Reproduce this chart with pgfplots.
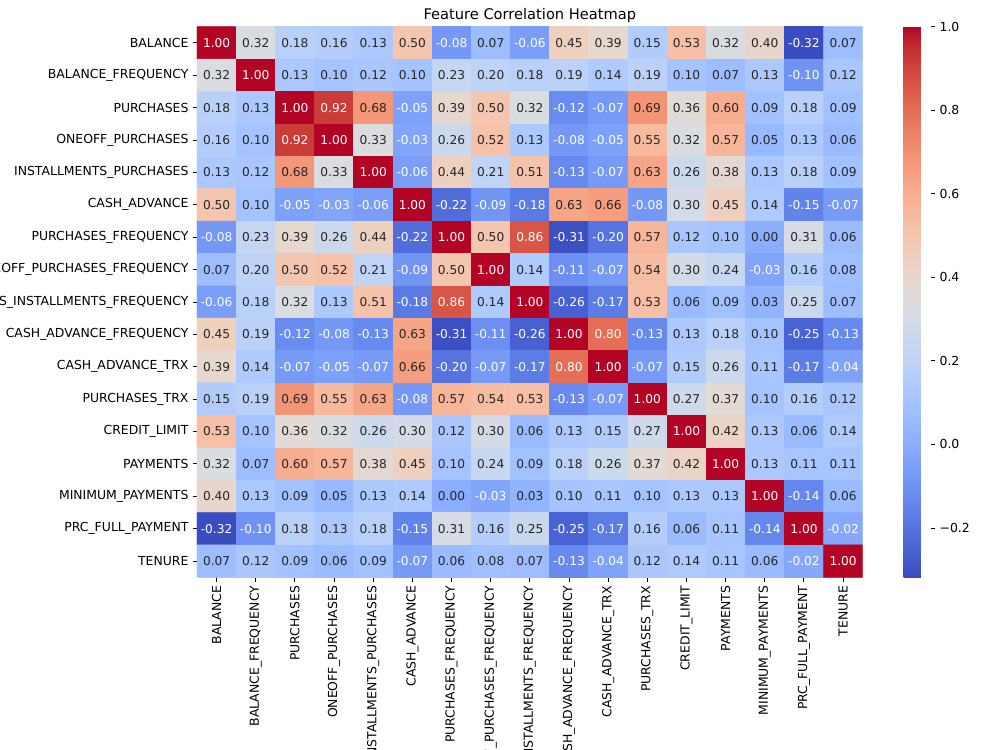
\documentclass[border=0pt]{standalone}
\usepackage{pgfplots}
\usepackage{pgfplotstable}
\pgfplotsset{compat=1.18}
\usepackage{fontspec}
\setmainfont{DejaVu Sans}
\definecolor{annotdark}{rgb}{0.15,0.15,0.15}

% correlation matrix in long form: column, row, value
\pgfplotstableread[row sep=\\]{
x y v\\
0 0 1.00\\ 1 0 0.32\\ 2 0 0.18\\ 3 0 0.16\\ 4 0 0.13\\ 5 0 0.50\\ 6 0 -0.08\\ 7 0 0.07\\ 8 0 -0.06\\ 9 0 0.45\\ 10 0 0.39\\ 11 0 0.15\\ 12 0 0.53\\ 13 0 0.32\\ 14 0 0.40\\ 15 0 -0.32\\ 16 0 0.07\\
0 1 0.32\\ 1 1 1.00\\ 2 1 0.13\\ 3 1 0.10\\ 4 1 0.12\\ 5 1 0.10\\ 6 1 0.23\\ 7 1 0.20\\ 8 1 0.18\\ 9 1 0.19\\ 10 1 0.14\\ 11 1 0.19\\ 12 1 0.10\\ 13 1 0.07\\ 14 1 0.13\\ 15 1 -0.10\\ 16 1 0.12\\
0 2 0.18\\ 1 2 0.13\\ 2 2 1.00\\ 3 2 0.92\\ 4 2 0.68\\ 5 2 -0.05\\ 6 2 0.39\\ 7 2 0.50\\ 8 2 0.32\\ 9 2 -0.12\\ 10 2 -0.07\\ 11 2 0.69\\ 12 2 0.36\\ 13 2 0.60\\ 14 2 0.09\\ 15 2 0.18\\ 16 2 0.09\\
0 3 0.16\\ 1 3 0.10\\ 2 3 0.92\\ 3 3 1.00\\ 4 3 0.33\\ 5 3 -0.03\\ 6 3 0.26\\ 7 3 0.52\\ 8 3 0.13\\ 9 3 -0.08\\ 10 3 -0.05\\ 11 3 0.55\\ 12 3 0.32\\ 13 3 0.57\\ 14 3 0.05\\ 15 3 0.13\\ 16 3 0.06\\
0 4 0.13\\ 1 4 0.12\\ 2 4 0.68\\ 3 4 0.33\\ 4 4 1.00\\ 5 4 -0.06\\ 6 4 0.44\\ 7 4 0.21\\ 8 4 0.51\\ 9 4 -0.13\\ 10 4 -0.07\\ 11 4 0.63\\ 12 4 0.26\\ 13 4 0.38\\ 14 4 0.13\\ 15 4 0.18\\ 16 4 0.09\\
0 5 0.50\\ 1 5 0.10\\ 2 5 -0.05\\ 3 5 -0.03\\ 4 5 -0.06\\ 5 5 1.00\\ 6 5 -0.22\\ 7 5 -0.09\\ 8 5 -0.18\\ 9 5 0.63\\ 10 5 0.66\\ 11 5 -0.08\\ 12 5 0.30\\ 13 5 0.45\\ 14 5 0.14\\ 15 5 -0.15\\ 16 5 -0.07\\
0 6 -0.08\\ 1 6 0.23\\ 2 6 0.39\\ 3 6 0.26\\ 4 6 0.44\\ 5 6 -0.22\\ 6 6 1.00\\ 7 6 0.50\\ 8 6 0.86\\ 9 6 -0.31\\ 10 6 -0.20\\ 11 6 0.57\\ 12 6 0.12\\ 13 6 0.10\\ 14 6 0.00\\ 15 6 0.31\\ 16 6 0.06\\
0 7 0.07\\ 1 7 0.20\\ 2 7 0.50\\ 3 7 0.52\\ 4 7 0.21\\ 5 7 -0.09\\ 6 7 0.50\\ 7 7 1.00\\ 8 7 0.14\\ 9 7 -0.11\\ 10 7 -0.07\\ 11 7 0.54\\ 12 7 0.30\\ 13 7 0.24\\ 14 7 -0.03\\ 15 7 0.16\\ 16 7 0.08\\
0 8 -0.06\\ 1 8 0.18\\ 2 8 0.32\\ 3 8 0.13\\ 4 8 0.51\\ 5 8 -0.18\\ 6 8 0.86\\ 7 8 0.14\\ 8 8 1.00\\ 9 8 -0.26\\ 10 8 -0.17\\ 11 8 0.53\\ 12 8 0.06\\ 13 8 0.09\\ 14 8 0.03\\ 15 8 0.25\\ 16 8 0.07\\
0 9 0.45\\ 1 9 0.19\\ 2 9 -0.12\\ 3 9 -0.08\\ 4 9 -0.13\\ 5 9 0.63\\ 6 9 -0.31\\ 7 9 -0.11\\ 8 9 -0.26\\ 9 9 1.00\\ 10 9 0.80\\ 11 9 -0.13\\ 12 9 0.13\\ 13 9 0.18\\ 14 9 0.10\\ 15 9 -0.25\\ 16 9 -0.13\\
0 10 0.39\\ 1 10 0.14\\ 2 10 -0.07\\ 3 10 -0.05\\ 4 10 -0.07\\ 5 10 0.66\\ 6 10 -0.20\\ 7 10 -0.07\\ 8 10 -0.17\\ 9 10 0.80\\ 10 10 1.00\\ 11 10 -0.07\\ 12 10 0.15\\ 13 10 0.26\\ 14 10 0.11\\ 15 10 -0.17\\ 16 10 -0.04\\
0 11 0.15\\ 1 11 0.19\\ 2 11 0.69\\ 3 11 0.55\\ 4 11 0.63\\ 5 11 -0.08\\ 6 11 0.57\\ 7 11 0.54\\ 8 11 0.53\\ 9 11 -0.13\\ 10 11 -0.07\\ 11 11 1.00\\ 12 11 0.27\\ 13 11 0.37\\ 14 11 0.10\\ 15 11 0.16\\ 16 11 0.12\\
0 12 0.53\\ 1 12 0.10\\ 2 12 0.36\\ 3 12 0.32\\ 4 12 0.26\\ 5 12 0.30\\ 6 12 0.12\\ 7 12 0.30\\ 8 12 0.06\\ 9 12 0.13\\ 10 12 0.15\\ 11 12 0.27\\ 12 12 1.00\\ 13 12 0.42\\ 14 12 0.13\\ 15 12 0.06\\ 16 12 0.14\\
0 13 0.32\\ 1 13 0.07\\ 2 13 0.60\\ 3 13 0.57\\ 4 13 0.38\\ 5 13 0.45\\ 6 13 0.10\\ 7 13 0.24\\ 8 13 0.09\\ 9 13 0.18\\ 10 13 0.26\\ 11 13 0.37\\ 12 13 0.42\\ 13 13 1.00\\ 14 13 0.13\\ 15 13 0.11\\ 16 13 0.11\\
0 14 0.40\\ 1 14 0.13\\ 2 14 0.09\\ 3 14 0.05\\ 4 14 0.13\\ 5 14 0.14\\ 6 14 0.00\\ 7 14 -0.03\\ 8 14 0.03\\ 9 14 0.10\\ 10 14 0.11\\ 11 14 0.10\\ 12 14 0.13\\ 13 14 0.13\\ 14 14 1.00\\ 15 14 -0.14\\ 16 14 0.06\\
0 15 -0.32\\ 1 15 -0.10\\ 2 15 0.18\\ 3 15 0.13\\ 4 15 0.18\\ 5 15 -0.15\\ 6 15 0.31\\ 7 15 0.16\\ 8 15 0.25\\ 9 15 -0.25\\ 10 15 -0.17\\ 11 15 0.16\\ 12 15 0.06\\ 13 15 0.11\\ 14 15 -0.14\\ 15 15 1.00\\ 16 15 -0.02\\
0 16 0.07\\ 1 16 0.12\\ 2 16 0.09\\ 3 16 0.06\\ 4 16 0.09\\ 5 16 -0.07\\ 6 16 0.06\\ 7 16 0.08\\ 8 16 0.07\\ 9 16 -0.13\\ 10 16 -0.04\\ 11 16 0.12\\ 12 16 0.14\\ 13 16 0.11\\ 14 16 0.06\\ 15 16 -0.02\\ 16 16 1.00\\
}\corr

\pgfplotsset{
  colormap={coolwarm}{
    rgb=(0.2298,0.2987,0.7537) rgb=(0.2662,0.3531,0.8015) rgb=(0.3039,0.4065,0.8450)
    rgb=(0.3428,0.4588,0.8837) rgb=(0.3830,0.5094,0.9174) rgb=(0.4244,0.5581,0.9456)
    rgb=(0.4667,0.6046,0.9682) rgb=(0.5096,0.6483,0.9848) rgb=(0.5530,0.6889,0.9954)
    rgb=(0.5963,0.7261,0.9998) rgb=(0.6392,0.7596,0.9982) rgb=(0.6813,0.7890,0.9904)
    rgb=(0.7222,0.8140,0.9766) rgb=(0.7615,0.8343,0.9569) rgb=(0.7987,0.8498,0.9317)
    rgb=(0.8335,0.8602,0.9011) rgb=(0.8654,0.8654,0.8654) rgb=(0.8978,0.8489,0.8209)
    rgb=(0.9241,0.8274,0.7745) rgb=(0.9445,0.8009,0.7267) rgb=(0.9589,0.7698,0.6780)
    rgb=(0.9673,0.7341,0.6288) rgb=(0.9700,0.6943,0.5794) rgb=(0.9668,0.6504,0.5303)
    rgb=(0.9580,0.6028,0.4818) rgb=(0.9437,0.5518,0.4342) rgb=(0.9239,0.4973,0.3880)
    rgb=(0.8990,0.4396,0.3432) rgb=(0.8692,0.3783,0.3003) rgb=(0.8346,0.3129,0.2593)
    rgb=(0.7956,0.2413,0.2205) rgb=(0.7525,0.1572,0.1841) rgb=(0.7057,0.0156,0.1502)
  },
  % printed cell values
  cell labels/.style={
    only marks, mark=*, mark size=0pt, mark options={draw=none, fill=none},
    point meta=explicit symbolic,
    nodes near coords, nodes near coords align=center,
    every node near coord/.append style={font=\fontsize{10}{12}\selectfont,
      inner sep=0pt, anchor=center, text=#1},
  },
}

\begin{document}
\begin{tikzpicture}
% page frame: everything outside it is cut away
\path[use as bounding box] (0pt,0pt) rectangle (820pt,615pt);
\begin{axis}[
  at={(161.54pt,141.61pt)}, anchor=south west,
  scale only axis, width=545.87pt, height=451.5pt,
  xmin=-0.5, xmax=16.5, ymin=-0.5, ymax=16.5,
  y dir=reverse, enlargelimits=false,
  axis line style={draw=none},
  tick align=outside, major tick length=3.5pt,
  tick style={black, line width=0.8pt},
  xtick pos=left, ytick pos=left,
  xtick={0,...,16}, ytick={0,...,16},
  xticklabels={BALANCE,BALANCE\_FREQUENCY,PURCHASES,ONEOFF\_PURCHASES,INSTALLMENTS\_PURCHASES,CASH\_ADVANCE,PURCHASES\_FREQUENCY,ONEOFF\_PURCHASES\_FREQUENCY,PURCHASES\_INSTALLMENTS\_FREQUENCY,CASH\_ADVANCE\_FREQUENCY,CASH\_ADVANCE\_TRX,PURCHASES\_TRX,CREDIT\_LIMIT,PAYMENTS,MINIMUM\_PAYMENTS,PRC\_FULL\_PAYMENT,TENURE},
  yticklabels={BALANCE,BALANCE\_FREQUENCY,PURCHASES,ONEOFF\_PURCHASES,INSTALLMENTS\_PURCHASES,CASH\_ADVANCE,PURCHASES\_FREQUENCY,ONEOFF\_PURCHASES\_FREQUENCY,PURCHASES\_INSTALLMENTS\_FREQUENCY,CASH\_ADVANCE\_FREQUENCY,CASH\_ADVANCE\_TRX,PURCHASES\_TRX,CREDIT\_LIMIT,PAYMENTS,MINIMUM\_PAYMENTS,PRC\_FULL\_PAYMENT,TENURE},
  ticklabel style={font=\fontsize{10.2}{12}\selectfont, text=black},
  xticklabel style={rotate=90, anchor=east},
  title={Feature Correlation Heatmap},
  title style={font=\fontsize{12}{14}\selectfont, anchor=base, yshift=0pt},
  colormap name=coolwarm,
  point meta min=-0.318, point meta max=1.0,
  colorbar,
  colorbar style={
    xshift=25pt,
    width=22.5pt,
    axis line style={draw=none},
    ytick={-0.2,0,0.2,0.4,0.6,0.8,1.0},
    yticklabels={−0.2,0.0,0.2,0.4,0.6,0.8,1.0},
    ytick pos=right, tick align=outside, major tick length=3.5pt,
    tick style={black, line width=0.8pt},
    yticklabel style={font=\fontsize{10.2}{12}\selectfont, text=black},
  },
]
% coloured cells
\addplot[matrix plot*, mesh/cols=17, point meta=explicit]
  table[x=x, y=y, meta=v] {\corr};
% values on light cells in dark text, on strong cells in white
\addplot[cell labels=annotdark, restrict expr to domain={\thisrow{v}}{-0.01:0.75}]
  table[x=x, y=y, meta=v] {\corr};
\addplot[cell labels=white, restrict expr to domain={\thisrow{v}}{-1:-0.01}]
  table[x=x, y=y, meta=v] {\corr};
\addplot[cell labels=white, restrict expr to domain={\thisrow{v}}{0.75:1.1}]
  table[x=x, y=y, meta=v] {\corr};
\end{axis}
\end{tikzpicture}
\end{document}
